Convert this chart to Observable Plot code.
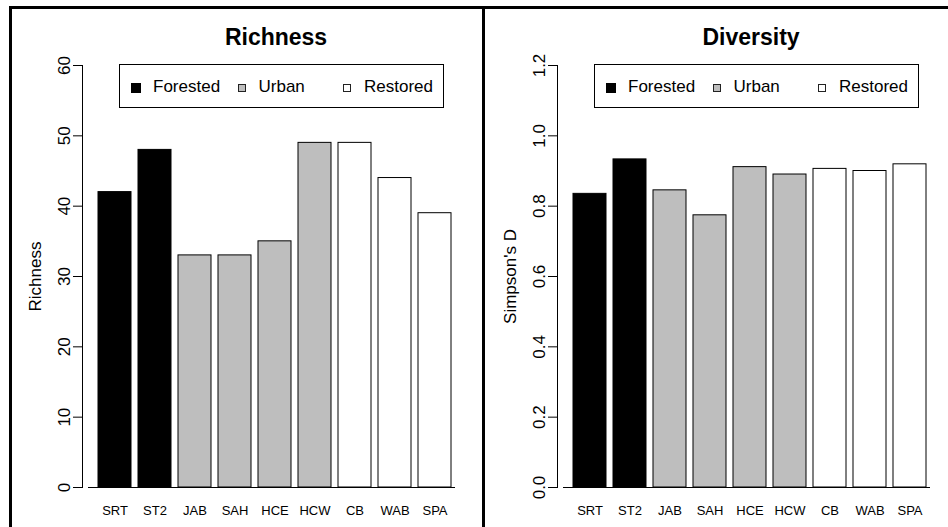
<!DOCTYPE html>
<html>
<head>
<meta charset="utf-8">
<script src="https://cdn.jsdelivr.net/npm/d3@7"></script>
<script src="https://cdn.jsdelivr.net/npm/@observablehq/plot@0.6"></script>
<style>
  body { margin: 0; background: #fff; }
  #chart {
    position: relative; width: 948px; height: 527px; overflow: hidden;
    background: #fff; font-family: "Liberation Sans", Arial, Helvetica, sans-serif; color: #000;
  }
  .panel { position: absolute; top: 0; width: 474px; height: 527px; }
  .panel svg { position: absolute; left: 0; top: 0; }
  .rule { position: absolute; background: #000; }
  .legend {
    position: absolute; left: 119px; top: 64px; width: 325px; height: 44px;
    box-sizing: border-box; border: 1px solid #000; background: #fff;
  }
  .legend .item { position: absolute; top: 0; height: 42px; }
  .legend .swatch { position: absolute; box-sizing: border-box; }
  .legend .name { position: absolute; top: 0; line-height: 44px; font-size: 17px; white-space: nowrap; }
</style>
</head>
<body>
<div id="chart"></div>
<script>
// Sampling sites, in plotting order, and the habitat type of each
const sites = ["SRT", "ST2", "JAB", "SAH", "HCE", "HCW", "CB", "WAB", "SPA"];
const siteGroups = ["Forested", "Forested", "Urban", "Urban", "Urban", "Urban", "Restored", "Restored", "Restored"];

// Habitat types and their bar fills
const groups = ["Forested", "Urban", "Restored"];
const groupFills = ["#000000", "#bebebe", "#ffffff"];

// Species richness per site
const richness = [42, 48, 33, 33, 35, 49, 49, 44, 39];

// Simpson's diversity index per site
const simpsonD = [0.835, 0.933, 0.845, 0.774, 0.911, 0.890, 0.906, 0.900, 0.919];

// Y-axis tick values
const richnessTicks = [0, 10, 20, 30, 40, 50, 60];
const diversityTicks = [0, 0.2, 0.4, 0.6, 0.8, 1.0, 1.2];

const fontFamily = '"Liberation Sans", Arial, Helvetica, sans-serif';

function barPanel({title, yLabel, values, ticks, tickFormat}) {
  const rows = sites.map((site, i) => ({site, group: siteGroups[i], value: values[i]}));
  return Plot.plot({
    width: 474,
    height: 527,
    marginLeft: 82,
    marginRight: 5,
    marginTop: 65,
    marginBottom: 40,
    style: {fontFamily, background: "transparent", color: "#000", overflow: "visible"},
    x: {domain: sites, paddingInner: 0.2 / 1.2, paddingOuter: 0, insetLeft: 13, insetRight: 14, label: null},
    y: {domain: [ticks[0], ticks[ticks.length - 1]], label: null},
    color: {domain: groups, range: groupFills},
    marks: [
      Plot.barY(rows, {x: "site", y: "value", fill: "group", stroke: "#000", strokeWidth: 1}),
      Plot.ruleY([0], {insetLeft: 6, insetRight: 14, stroke: "#000"}),
      Plot.frame({anchor: "left", stroke: "#000"}),
      Plot.axisY({ticks, tickFormat, tickSize: 9, tickPadding: 4, tickRotate: -90, fontSize: 17, label: null}),
      Plot.axisX({tickSize: 0, tickPadding: 18, fontSize: 13, label: null}),
      Plot.text([title], {frameAnchor: "top", dy: -28, fontSize: 23, fontWeight: "bold", lineAnchor: "middle", textAnchor: "middle"}),
      Plot.text([yLabel], {frameAnchor: "left", dx: -47, rotate: -90, fontSize: 17, lineAnchor: "middle", textAnchor: "middle"})
    ]
  });
}

function legendBox() {
  const box = document.createElement("div");
  box.className = "legend";
  groups.forEach((g, i) => {
    const item = document.createElement("div");
    item.className = "item";
    item.style.left = (i * 105.5) + "px";
    const sw = document.createElement("div");
    sw.className = "swatch";
    const filled = groupFills[i] === "#000000";
    const size = filled ? 10 : 8;
    sw.style.width = size + "px";
    sw.style.height = size + "px";
    sw.style.left = (16 - size / 2) + "px";
    sw.style.top = (23 - size / 2) + "px";
    sw.style.background = groupFills[i];
    sw.style.border = filled ? "none" : "1px solid #222";
    const name = document.createElement("div");
    name.className = "name";
    name.style.left = "33px";
    name.textContent = g;
    item.append(sw, name);
    box.append(item);
  });
  return box;
}

const chart = document.getElementById("chart");

const panels = [
  {left: 0, title: "Richness", yLabel: "Richness", values: richness, ticks: richnessTicks, tickFormat: d3.format("d")},
  {left: 475, title: "Diversity", yLabel: "Simpson's D", values: simpsonD, ticks: diversityTicks, tickFormat: d3.format(".1f")}
];

for (const p of panels) {
  const wrap = document.createElement("div");
  wrap.className = "panel";
  wrap.style.left = p.left + "px";
  wrap.append(barPanel(p), legendBox());
  chart.append(wrap);
}

// Figure borders: top edge, left edge and the divider between the two panels
for (const [l, t, w, h] of [[9, 6, 939, 3], [9, 6, 3, 521], [482, 6, 3, 521]]) {
  const r = document.createElement("div");
  r.className = "rule";
  Object.assign(r.style, {left: l + "px", top: t + "px", width: w + "px", height: h + "px"});
  chart.append(r);
}
</script>
</body>
</html>
